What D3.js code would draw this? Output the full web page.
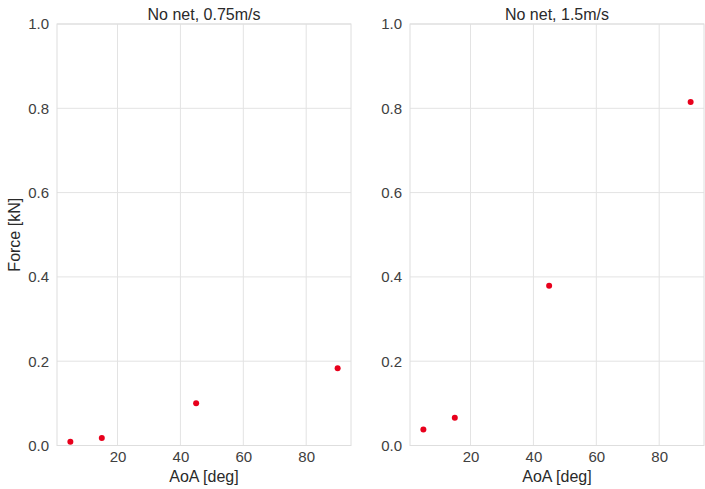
<!DOCTYPE html>
<html>
<head>
<meta charset="utf-8">
<script src="https://cdn.jsdelivr.net/npm/d3@7"></script>
<style>
  html, body { margin: 0; padding: 0; background: #fff; }
  svg { display: block; }
  text { font-family: "Liberation Sans", Arial, sans-serif; }
</style>
</head>
<body>
<svg id="chart" width="705" height="489"></svg>
<script>
// Angle of attack (deg) for each test run
const aoa = [5, 15, 45, 90];
// Measured force (kN) per flow speed
const force075 = [0.009, 0.018, 0.100, 0.183];
const force150 = [0.038, 0.066, 0.379, 0.815];
const panelTitles = ["No net, 0.75m/s", "No net, 1.5m/s"];
const yTicks = [0.0, 0.2, 0.4, 0.6, 0.8, 1.0];
const xTicks = [20, 40, 60, 80];

(function draw() {
  const svg = d3.select("#chart");
  const panels = [
    { title: panelTitles[0], values: force075, left: 57, showYLabel: true },
    { title: panelTitles[1], values: force150, left: 410, showYLabel: false }
  ];
  const plotW = 294, plotTop = 24, plotBottom = 445.5;

  panels.forEach(p => {
    const x = d3.scaleLinear().domain([0.75, 94.25]).range([p.left, p.left + plotW]);
    const y = d3.scaleLinear().domain([0, 1]).range([plotBottom, plotTop]);
    const g = svg.append("g");

    // grid
    g.selectAll(".vgrid").data(xTicks).join("line")
      .attr("x1", d => x(d)).attr("x2", d => x(d))
      .attr("y1", plotTop).attr("y2", plotBottom)
      .attr("stroke", "#e3e3e3").attr("stroke-width", 1);
    g.selectAll(".hgrid").data(yTicks).join("line")
      .attr("x1", p.left).attr("x2", p.left + plotW)
      .attr("y1", d => y(d)).attr("y2", d => y(d))
      .attr("stroke", "#e3e3e3").attr("stroke-width", 1);

    // frame
    g.append("rect")
      .attr("x", p.left).attr("y", plotTop)
      .attr("width", plotW).attr("height", plotBottom - plotTop)
      .attr("fill", "none").attr("stroke", "#dedede").attr("stroke-width", 1);

    // axes (tick labels only, whitegrid style)
    const xAxis = g.append("g").attr("transform", `translate(0,${plotBottom})`)
      .call(d3.axisBottom(x).tickValues(xTicks).tickSize(0).tickPadding(6).tickFormat(d3.format("d")));
    const yAxis = g.append("g").attr("transform", `translate(${p.left},0)`)
      .call(d3.axisLeft(y).tickValues(yTicks).tickSize(0).tickPadding(8).tickFormat(d3.format(".1f")));
    [xAxis, yAxis].forEach(a => {
      a.select(".domain").remove();
      a.selectAll("text").attr("fill", "#404040").style("font-size", "15px")
        .style("font-family", "'Liberation Sans', Arial, sans-serif");
    });

    // title
    g.append("text")
      .attr("x", p.left + plotW / 2).attr("y", 19.5)
      .attr("text-anchor", "middle").attr("fill", "#2a2a2a").style("font-size", "16px")
      .text(p.title);

    // x label
    g.append("text")
      .attr("x", p.left + plotW / 2).attr("y", 482)
      .attr("text-anchor", "middle").attr("fill", "#2a2a2a").style("font-size", "16px")
      .text("AoA [deg]");

    if (p.showYLabel) {
      g.append("text")
        .attr("transform", `translate(19.5,${(plotTop + plotBottom) / 2}) rotate(-90)`)
        .attr("text-anchor", "middle").attr("fill", "#2a2a2a").style("font-size", "16px")
        .text("Force [kN]");
    }

    // points
    g.selectAll(".pt").data(aoa.map((a, i) => [a, p.values[i]])).join("circle")
      .attr("cx", d => x(d[0])).attr("cy", d => y(d[1]))
      .attr("r", 3).attr("fill", "#e8001c");
  });
})();
</script>
</body>
</html>
